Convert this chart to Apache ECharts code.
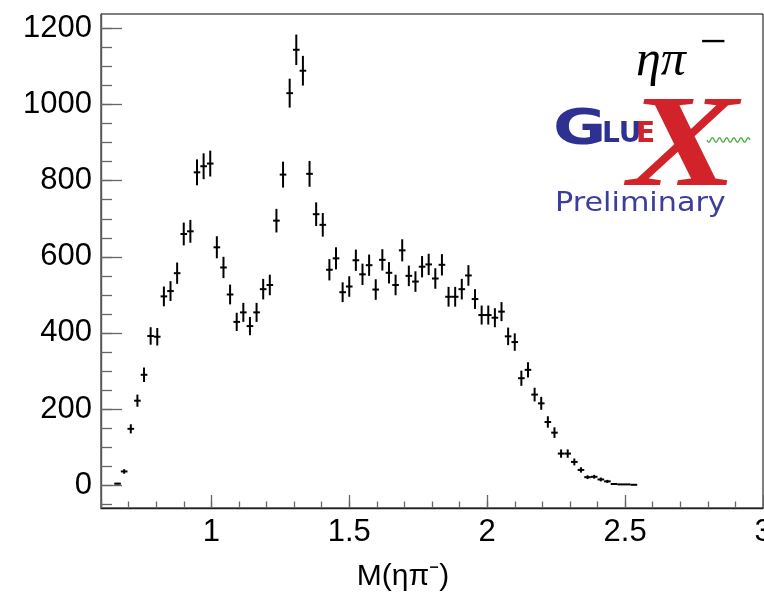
<!DOCTYPE html>
<html>
<head>
<meta charset="utf-8">
<script src="https://cdn.jsdelivr.net/npm/echarts@6/dist/echarts.min.js"></script>
<style>
  html, body { margin: 0; padding: 0; background: #fff; }
  #chart { width: 764px; height: 593px; }
</style>
</head>
<body>
<div id="chart"></div>
<script>
// Bin centres of M(eta pi-) in GeV (bin width 0.024)
const masses = [
  0.660, 0.684, 0.708, 0.732, 0.756, 0.780, 0.804, 0.828, 0.852, 0.876,
  0.900, 0.924, 0.948, 0.972, 0.996, 1.020, 1.044, 1.068, 1.092, 1.116,
  1.140, 1.164, 1.188, 1.212, 1.236, 1.260, 1.284, 1.308, 1.332, 1.356,
  1.380, 1.404, 1.428, 1.452, 1.476, 1.500, 1.524, 1.548, 1.572, 1.596,
  1.620, 1.644, 1.668, 1.692, 1.716, 1.740, 1.764, 1.788, 1.812, 1.836,
  1.860, 1.884, 1.908, 1.932, 1.956, 1.980, 2.004, 2.028, 2.052, 2.076,
  2.100, 2.124, 2.148, 2.172, 2.196, 2.220, 2.244, 2.268, 2.292, 2.316,
  2.340, 2.364, 2.388, 2.412, 2.436, 2.460, 2.484, 2.508, 2.532
];

// Weighted counts per bin
const counts = [
  4, 36, 148, 222, 290, 392, 390, 496, 510, 557,
  660, 667, 822, 838, 845, 625, 572, 501, 429, 454,
  418, 454, 515, 526, 695, 816, 1030, 1144, 1089, 818,
  712, 684, 566, 596, 507, 522, 591, 554, 578, 514,
  592, 558, 526, 617, 550, 535, 574, 580, 543, 579,
  495, 495, 515, 551, 489, 447, 447, 440, 456, 391,
  376, 281, 303, 238, 215, 166, 138, 83, 83, 61,
  40, 21, 22, 15, 10, 3, 2, 2, 1
];

// Statistical uncertainty per bin
const errors = [
  2, 6, 12, 16, 19, 23, 23, 26, 26, 28,
  30, 30, 34, 34, 34, 29, 28, 26, 24, 25,
  24, 25, 27, 27, 31, 34, 38, 40, 39, 34,
  31, 31, 28, 29, 26, 27, 28, 28, 28, 27,
  28, 28, 27, 29, 27, 27, 28, 28, 27, 28,
  26, 26, 27, 27, 26, 25, 25, 25, 25, 23,
  23, 20, 20, 18, 17, 15, 14, 11, 11, 9,
  7, 5, 5, 5, 4, 2, 1, 1, 1
];

// Axis labels
const xLabels = [1, 1.5, 2, 2.5, 3];
const yLabels = [0, 200, 400, 600, 800, 1000, 1200];

const X_MIN = 0.6, X_MAX = 3.0;
const Y_MIN = -60, Y_MAX = 1238;
const HALF_BIN = 0.012;

// Frame of the plotting area (pixels)
const W = 764, H = 593;
const G = { left: 101, right: 1, top: 14, bottom: 85 };
const pxX = (W - G.left - G.right) / (X_MAX - X_MIN);
const pxY = (H - G.top - G.bottom) / (Y_MAX - Y_MIN);
const xPix = v => G.left + (v - X_MIN) * pxX;
const yPix = v => G.top + (Y_MAX - v) * pxY;

const chart = echarts.init(document.getElementById('chart'), null, { renderer: 'canvas' });

const points = masses.map((m, i) => [m, counts[i], errors[i]]);

const tickFont = { fontFamily: 'Liberation Sans', fontSize: 31, color: '#000' };
const tickLine = { color: '#666', width: 1.3 };

function tickOnlyAxis(extra) {
  return Object.assign({
    type: 'value',
    axisLine: { show: false, onZero: false },
    axisLabel: { show: false },
    splitLine: { show: false }
  }, extra);
}

// Wavy green line of the logo
const wave = [];
for (let i = 0; i <= 60; i++) {
  wave.push([707 + i * 43 / 60, 140 + 2.2 * Math.sin(i / 60 * Math.PI * 12)]);
}

chart.setOption({
  animation: false,
  grid: [
    // 0: data frame
    Object.assign({ show: true, borderColor: '#000', borderWidth: 1,
                    backgroundColor: 'transparent', outerBoundsMode: 'none' }, G),
    // 1: minor x ticks, every 0.1
    Object.assign({ show: false, outerBoundsMode: 'none' }, G),
    // 2: major x ticks from 1.0
    { show: false, outerBoundsMode: 'none', left: xPix(1), right: G.right, top: G.top, bottom: G.bottom },
    // 3: major y ticks 0..1200
    { show: false, outerBoundsMode: 'none', left: G.left, right: G.right,
      top: yPix(1200), bottom: H - yPix(0) },
    // 4: minor y ticks -50..1200
    { show: false, outerBoundsMode: 'none', left: G.left, right: G.right,
      top: yPix(1200), bottom: H - yPix(-50) }
  ],
  xAxis: [
    {
      gridIndex: 0, type: 'value', min: X_MIN, max: X_MAX, position: 'bottom',
      axisLine: { show: true, onZero: false, lineStyle: { color: '#222', width: 1.3 } },
      axisTick: { show: false },
      axisLabel: Object.assign({ margin: 9, customValues: xLabels,
                                 formatter: v => String(v) }, tickFont),
      splitLine: { show: false }
    },
    tickOnlyAxis({ gridIndex: 1, min: X_MIN, max: X_MAX, interval: 0.1, position: 'bottom',
                   axisTick: { show: true, inside: true, length: 6.5, lineStyle: tickLine } }),
    tickOnlyAxis({ gridIndex: 2, min: 1, max: X_MAX, interval: 0.5, position: 'bottom',
                   axisTick: { show: true, inside: true, length: 13, lineStyle: tickLine } }),
    { gridIndex: 3, type: 'value', min: 0, max: 1, show: false },
    { gridIndex: 4, type: 'value', min: 0, max: 1, show: false }
  ],
  yAxis: [
    {
      gridIndex: 0, type: 'value', min: Y_MIN, max: Y_MAX, position: 'left',
      axisLine: { show: true, onZero: false, lineStyle: { color: '#555', width: 1.4 } },
      axisTick: { show: false },
      axisLabel: Object.assign({ margin: 9, customValues: yLabels,
                                 formatter: v => String(v) }, tickFont),
      splitLine: { show: false }
    },
    { gridIndex: 1, type: 'value', min: 0, max: 1, show: false },
    { gridIndex: 2, type: 'value', min: 0, max: 1, show: false },
    tickOnlyAxis({ gridIndex: 3, min: 0, max: 1200, interval: 200, position: 'left',
                   axisTick: { show: true, inside: true, length: 21, lineStyle: tickLine } }),
    tickOnlyAxis({ gridIndex: 4, min: -50, max: 1200, interval: 50, position: 'left',
                   axisTick: { show: true, inside: true, length: 11, lineStyle: tickLine } })
  ],
  series: [{
    type: 'custom',
    xAxisIndex: 0, yAxisIndex: 0,
    data: points,
    encode: { x: 0, y: 1 },
    renderItem: function (params, api) {
      const m = api.value(0), n = api.value(1), e = api.value(2);
      const c = api.coord([m, n]);
      const hi = api.coord([m, n + e]);
      const lo = api.coord([m, n - e]);
      const l = api.coord([m - HALF_BIN, n]);
      const r = api.coord([m + HALF_BIN, n]);
      const st = { stroke: '#000', lineWidth: 2 };
      return {
        type: 'group',
        children: [
          { type: 'line', shape: { x1: c[0], y1: hi[1], x2: c[0], y2: lo[1] }, style: st },
          { type: 'line', shape: { x1: l[0], y1: c[1], x2: r[0], y2: c[1] }, style: st }
        ]
      };
    }
  }],
  graphic: [
    // axis title
    { type: 'text', x: 403, y: 577,
      style: { text: 'M(ηπ⁻)', fontFamily: 'Liberation Sans', fontSize: 30, fill: '#000',
               align: 'center', verticalAlign: 'middle' } },
    // reaction label
    { type: 'text', x: 636, y: 62,
      style: { text: 'ηπ', fontFamily: 'Liberation Serif', fontStyle: 'italic', fontSize: 50,
               fill: '#000', align: 'left', verticalAlign: 'middle' } },
    { type: 'text', x: 713, y: 44,
      style: { text: '−', fontFamily: 'Liberation Serif', fontSize: 48, fill: '#000',
               align: 'center', verticalAlign: 'middle' } },
    // GlueX logo
    { type: 'text', x: 553, y: 131, scaleX: 1.3,
      style: { text: 'G', fontFamily: 'DejaVu Sans', fontWeight: 'bold', fontSize: 50,
               fill: '#2e3192', align: 'left', verticalAlign: 'middle' } },
    { type: 'text', x: 602, y: 135,
      style: { text: 'LU', fontFamily: 'DejaVu Sans', fontWeight: 'bold', fontSize: 28,
               fill: '#2e3192', align: 'left', verticalAlign: 'middle' } },
    { type: 'text', x: 636, y: 135,
      style: { text: 'E', fontFamily: 'DejaVu Sans', fontWeight: 'bold', fontSize: 28,
               fill: '#d2232a', align: 'left', verticalAlign: 'middle' } },
    { type: 'polyline', shape: { points: wave },
      style: { stroke: '#3aa935', lineWidth: 1.2, fill: null } },
    { type: 'text', x: 628, y: 151, scaleX: 1.25,
      style: { text: 'X', fontFamily: 'Liberation Serif', fontStyle: 'italic', fontWeight: 'bold',
               fontSize: 132, fill: '#d2232a', align: 'left', verticalAlign: 'middle' } },
    { type: 'text', x: 555, y: 204, scaleX: 1.12,
      style: { text: 'Preliminary', fontFamily: 'DejaVu Sans', fontSize: 27,
               fill: '#3d3d9c', align: 'left', verticalAlign: 'middle' } }
  ]
});
</script>
</body>
</html>
